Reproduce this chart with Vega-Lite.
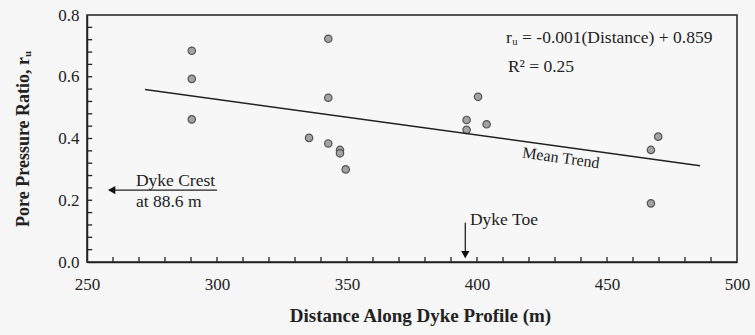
{
  "$schema": "https://vega.github.io/schema/vega-lite/v6.json",
  "width": 650,
  "height": 247,
  "autosize": {"type": "none"},
  "padding": {"left": 87, "top": 15, "right": 18, "bottom": 73},
  "background": "#f6f6f6",
  "config": {
    "font": "Liberation Serif",
    "view": {"stroke": "#222222", "strokeWidth": 1.5, "fill": "#f7f7f7"},
    "axis": {"grid": false, "domainColor": "#222222", "domainWidth": 1.5, "labelColor": "#222222", "titleColor": "#222222", "labelFont": "Liberation Serif", "titleFont": "Liberation Serif"}
  },
  "datasets": {
    "points": [
      {"distance": 290.3, "ru": 0.684},
      {"distance": 290.3, "ru": 0.593},
      {"distance": 290.3, "ru": 0.462},
      {"distance": 342.8, "ru": 0.723},
      {"distance": 342.8, "ru": 0.532},
      {"distance": 335.4, "ru": 0.402},
      {"distance": 342.8, "ru": 0.384},
      {"distance": 347.3, "ru": 0.363},
      {"distance": 347.3, "ru": 0.352},
      {"distance": 349.5, "ru": 0.300},
      {"distance": 400.4, "ru": 0.535},
      {"distance": 396.0, "ru": 0.460},
      {"distance": 396.0, "ru": 0.428},
      {"distance": 403.7, "ru": 0.446},
      {"distance": 469.7, "ru": 0.406},
      {"distance": 466.9, "ru": 0.363},
      {"distance": 466.9, "ru": 0.190}
    ],
    "trend": [
      {"distance": 272.3, "ru": 0.559},
      {"distance": 485.8, "ru": 0.312}
    ],
    "xticks": [
      {"tick": 260}, {"tick": 270}, {"tick": 280}, {"tick": 290}, {"tick": 300},
      {"tick": 310}, {"tick": 320}, {"tick": 330}, {"tick": 340}, {"tick": 350},
      {"tick": 360}, {"tick": 370}, {"tick": 380}, {"tick": 390}, {"tick": 400},
      {"tick": 410}, {"tick": 420}, {"tick": 430}, {"tick": 440}, {"tick": 450},
      {"tick": 460}, {"tick": 470}, {"tick": 480}, {"tick": 490}
    ],
    "yticks": [
      {"tick": 0.04}, {"tick": 0.08}, {"tick": 0.12}, {"tick": 0.16}, {"tick": 0.2},
      {"tick": 0.24}, {"tick": 0.28}, {"tick": 0.32}, {"tick": 0.36}, {"tick": 0.4},
      {"tick": 0.44}, {"tick": 0.48}, {"tick": 0.52}, {"tick": 0.56}, {"tick": 0.6},
      {"tick": 0.64}, {"tick": 0.68}, {"tick": 0.72}, {"tick": 0.76}
    ],
    "labels": [
      {"distance": 411.2, "ru": 0.7255, "label": "rᵤ = -0.001(Distance) + 0.859"},
      {"distance": 411.9, "ru": 0.632, "label": "R² = 0.25"},
      {"distance": 268.8, "ru": 0.262, "label": "Dyke Crest"},
      {"distance": 268.8, "ru": 0.195, "label": "at 88.6 m"},
      {"distance": 397.3, "ru": 0.136, "label": "Dyke Toe"}
    ],
    "meantrend": [
      {"distance": 432.3, "ru": 0.337, "label": "Mean Trend"}
    ],
    "arrowlines": [
      {"x1": 258.5, "x2": 300.0, "y1": 0.233, "y2": 0.233},
      {"x1": 395.5, "x2": 395.5, "y1": 0.127, "y2": 0.015}
    ],
    "arrowheads": [
      {"distance": 259.5, "ru": 0.233, "dir": "left"},
      {"distance": 395.5, "ru": 0.024, "dir": "down"}
    ]
  },
  "layer": [
    {
      "data": {"name": "points"},
      "mark": {"type": "point", "shape": "circle", "filled": true, "size": 55, "fill": "#a3a3a3", "stroke": "#555555", "strokeWidth": 1.2, "opacity": 1},
      "encoding": {
        "x": {"field": "distance", "type": "quantitative",
              "scale": {"domain": [250, 500], "nice": false, "zero": false},
              "axis": {"orient": "bottom", "values": [250, 300, 350, 400, 450, 500], "ticks": false, "labelFontSize": 17, "labelPadding": 14, "labelFlush": false,
                       "title": "Distance Along Dyke Profile  (m)", "titleFontSize": 19, "titleFontWeight": "bold", "titlePadding": 14, "titleX": 333}},
        "y": {"field": "ru", "type": "quantitative",
              "scale": {"domain": [0, 0.8], "nice": false},
              "axis": {"orient": "left", "values": [0, 0.2, 0.4, 0.6, 0.8], "format": ".1f", "ticks": false, "labelFontSize": 17, "labelPadding": 8, "labelFlush": false,
                       "title": "Pore Pressure Ratio, rᵤ", "titleFontSize": 18, "titleFontWeight": "bold", "titlePadding": 25}}
      }
    },
    {
      "data": {"name": "xticks"},
      "mark": {"type": "rule", "color": "#222222", "strokeWidth": 1.3},
      "encoding": {
        "x": {"field": "tick", "type": "quantitative"},
        "y": {"datum": 0},
        "y2": {"datum": 0.016}
      }
    },
    {
      "data": {"name": "yticks"},
      "mark": {"type": "rule", "color": "#222222", "strokeWidth": 1.3},
      "encoding": {
        "y": {"field": "tick", "type": "quantitative"},
        "x": {"datum": 250},
        "x2": {"datum": 252}
      }
    },
    {
      "data": {"name": "trend"},
      "mark": {"type": "line", "color": "#222222", "strokeWidth": 1.5},
      "encoding": {
        "x": {"field": "distance", "type": "quantitative"},
        "y": {"field": "ru", "type": "quantitative"}
      }
    },
    {
      "data": {"name": "labels"},
      "mark": {"type": "text", "align": "left", "baseline": "middle", "fontSize": 17.5, "color": "#222222"},
      "encoding": {
        "x": {"field": "distance", "type": "quantitative"},
        "y": {"field": "ru", "type": "quantitative"},
        "text": {"field": "label"}
      }
    },
    {
      "data": {"name": "meantrend"},
      "mark": {"type": "text", "align": "center", "baseline": "middle", "fontSize": 16, "angle": 8, "color": "#222222"},
      "encoding": {
        "x": {"field": "distance", "type": "quantitative"},
        "y": {"field": "ru", "type": "quantitative"},
        "text": {"field": "label"}
      }
    },
    {
      "data": {"name": "arrowlines"},
      "mark": {"type": "rule", "color": "#222222", "strokeWidth": 1.3},
      "encoding": {
        "x": {"field": "x1", "type": "quantitative"},
        "x2": {"field": "x2"},
        "y": {"field": "y1", "type": "quantitative"},
        "y2": {"field": "y2"}
      }
    },
    {
      "data": {"name": "arrowheads"},
      "mark": {"type": "point", "filled": true, "size": 70, "color": "#111111", "opacity": 1},
      "encoding": {
        "x": {"field": "distance", "type": "quantitative"},
        "y": {"field": "ru", "type": "quantitative"},
        "shape": {"field": "dir", "type": "nominal", "scale": {"domain": ["left", "down"], "range": ["triangle-left", "triangle-down"]}, "legend": null}
      }
    }
  ]
}
